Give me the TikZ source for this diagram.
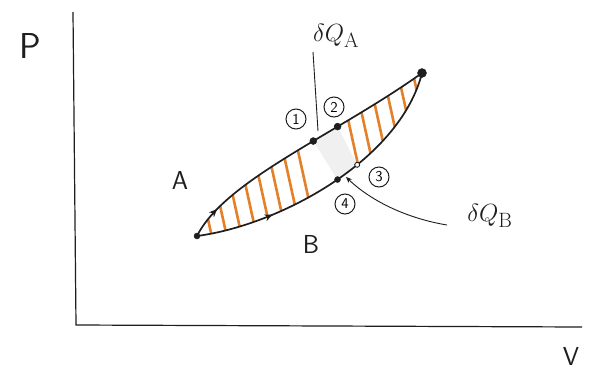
\documentclass[tikz,border=0pt]{standalone}
\usetikzlibrary{arrows.meta,decorations.markings}
\definecolor{ink}{RGB}{30,30,30}
\definecolor{hatch}{RGB}{228,128,40}
\tikzset{
  curveline/.style={draw=ink,line width=1.7pt},
  axisline/.style={draw=ink,line width=1.2pt},
  stripe/.style={draw=hatch,line width=2.6pt},
  fulldot/.style={circle,fill=ink,draw=ink,inner sep=0pt,minimum size=7pt},
  opendot/.style={circle,fill=white,draw=ink,line width=0.9pt,inner sep=0pt,minimum size=5pt},
  circnum/.style={circle,draw=ink,line width=1pt,inner sep=0.5pt,minimum size=20pt,font=\sffamily\fontsize{15}{15}\selectfont},
  biglabel/.style={font=\sffamily\fontsize{36}{36}\selectfont,text=ink},
  midlabel/.style={font=\sffamily\fontsize{26}{26}\selectfont,text=ink},
  qlabel/.style={font=\fontsize{30}{30}\selectfont,text=ink},
  pointer/.style={draw=ink,line width=0.9pt},
  flowarrow/.style={postaction={decorate},decoration={markings,mark=at position #1 with {\arrow[line width=1.2pt]{Stealth[length=8pt,width=7pt]}}}}
}
\begin{document}
\begin{tikzpicture}[x=1pt,y=-1pt]
\useasboundingbox (0,0) rectangle (596,375);
\fill[white] (0,0) rectangle (596,375);

% axes
\coordinate (O) at (76,325);
\coordinate (Ptop) at (73,12);
\coordinate (Vend) at (582,327);
\draw[axisline] (Ptop) -- (O) -- (Vend);
\node[biglabel] (Plab) at (30,46) {P};
\node[midlabel] (Vlab) at (571,356) {V};

% key points
\coordinate (L) at (197,236);
\coordinate (R) at (422,73);
\path (L) .. controls (225,180) and (335,135) .. (R)
  coordinate[pos=0.6] (p1) coordinate[pos=0.69] (p2);
\path (L) .. controls (280,225) and (400,160) .. (R)
  coordinate[pos=0.6] (p3) coordinate[pos=0.52] (p4);

% hatching
\begin{scope}
\clip (L) .. controls (225,180) and (335,135) .. (R) .. controls (400,160) and (280,225) .. (L) -- cycle;
\fill[gray!12] (p1) -- (p2) -- (p3) -- (p4) -- cycle;
\foreach \x in {195,210,...,300} { \draw[stripe] (\x-22,60) -- (\x+22,260); }
\foreach \x in {357,372,...,432} { \draw[stripe] (\x-22,60) -- (\x+22,260); }
\end{scope}

% curves
\draw[curveline,flowarrow=0.12] (L) .. controls (225,180) and (335,135) .. (R);
\draw[curveline,flowarrow=0.27] (L) .. controls (280,225) and (400,160) .. (R);

% dots
\node[fulldot,minimum size=6pt] (dL) at (L) {};
\node[fulldot,minimum size=9pt] (dR) at (R) {};
\node[fulldot] (d1) at (p1) {};
\node[fulldot] (d2) at (p2) {};
\node[fulldot,minimum size=6pt] (d4) at (p4) {};
\node[opendot] (d3) at (p3) {};

% circled numbers
\node[circnum] (n1) at (296,119) {1};
\node[circnum] (n2) at (334,107) {2};
\node[circnum] (n3) at (379,177) {3};
\node[circnum] (n4) at (345,204) {4};

% labels
\node[midlabel] (Alab) at (180,180) {A};
\node[midlabel] (Blab) at (311,244) {B};
\node[qlabel] (QA) at (336,36) {$\delta Q_{\mathrm{A}}$};
\node[qlabel] (QB) at (490,216) {$\delta Q_{\mathrm{B}}$};

% pointers
\coordinate (QAend) at (313,52);
\coordinate (QBstart) at (447,225);
\coordinate (QBtip) at (346,177);
\coordinate (QAtip) at (318,131);
\draw[pointer] (QAend) -- (QAtip);
\draw[pointer,-{Stealth[length=6pt,width=5pt]}] (QBstart) .. controls (405,218) and (370,200) .. (QBtip);
\end{tikzpicture}
\end{document}
